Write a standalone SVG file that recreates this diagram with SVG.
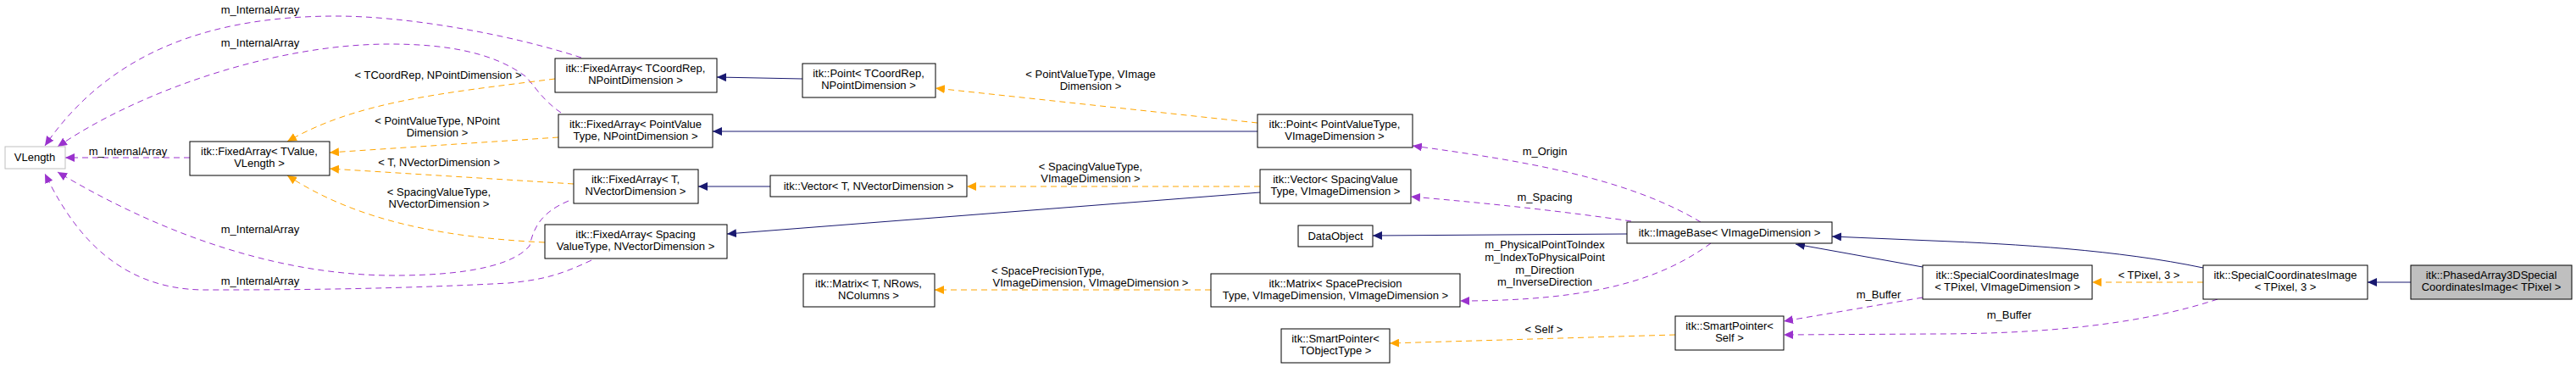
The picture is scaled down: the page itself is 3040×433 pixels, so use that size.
<svg xmlns="http://www.w3.org/2000/svg" width="3040" height="433" viewBox="0 0 3040 433">
<style>
text{font-family:"Liberation Sans",Arial,sans-serif;font-size:13px;fill:#000;text-anchor:middle}
.n rect{fill:#fff;stroke:#000;stroke-width:1}
.p{fill:none;stroke:#9a32cd;stroke-dasharray:7,5;stroke-width:1}
.o{fill:none;stroke:#ffa500;stroke-dasharray:7,5;stroke-width:1}
.b{fill:none;stroke:#191970;stroke-width:1}
</style>
<defs>
<marker id="mp" markerUnits="userSpaceOnUse" markerWidth="12" markerHeight="10" refX="11" refY="5" orient="auto"><path d="M0,0L11,5L0,10z" fill="#9a32cd"/></marker>
<marker id="mo" markerUnits="userSpaceOnUse" markerWidth="12" markerHeight="10" refX="11" refY="5" orient="auto"><path d="M0,0L11,5L0,10z" fill="#ffa500"/></marker>
<marker id="mb" markerUnits="userSpaceOnUse" markerWidth="12" markerHeight="10" refX="11" refY="5" orient="auto"><path d="M0,0L11,5L0,10z" fill="#191970"/></marker>
</defs>
<rect width="3040" height="433" fill="#fff"/>
<g id="edges">
<path class="p" marker-end="url(#mp)" d="M686,68C600,40 480,19 397,19C250,19 130,60 53,172"/>
<path class="p" marker-end="url(#mp)" d="M662,133C640,118 630,100 620,90C580,60 520,52 460,52C320,52 160,110 68,173"/>
<path class="p" marker-end="url(#mp)" d="M224,186L77,186"/>
<path class="p" marker-end="url(#mp)" d="M671,237C640,250 630,267 625,290C600,320 520,325 465,325C320,325 180,270 68,203"/>
<path class="p" marker-end="url(#mp)" d="M698,307C660,325 640,330 600,334C450,342 320,342 242,342C130,342 80,260 53,205"/>
<text x="307" y="16">m_InternalArray</text>
<text x="307" y="55">m_InternalArray</text>
<text x="151" y="183">m_InternalArray</text>
<text x="307" y="275">m_InternalArray</text>
<text x="307" y="336">m_InternalArray</text>

<path class="o" marker-end="url(#mo)" d="M655,93C520,110 420,120 339,167"/>
<path class="o" marker-end="url(#mo)" d="M659,162L389,180"/>
<path class="o" marker-end="url(#mo)" d="M677,217L389,199"/>
<path class="o" marker-end="url(#mo)" d="M643,286C520,280 420,260 339,207"/>
<text x="517" y="93">&lt; TCoordRep, NPointDimension &gt;</text>
<text x="516" y="147">&lt; PointValueType, NPoint</text>
<text x="516" y="161">Dimension &gt;</text>
<text x="518" y="196">&lt; T, NVectorDimension &gt;</text>
<text x="518" y="231">&lt; SpacingValueType,</text>
<text x="518" y="245">NVectorDimension &gt;</text>

<path class="b" marker-end="url(#mb)" d="M947,93L846,91"/>
<path class="b" marker-end="url(#mb)" d="M1484,155L841,155"/>
<path class="b" marker-end="url(#mb)" d="M909,220L824,220"/>
<path class="b" marker-end="url(#mb)" d="M1487,227L858,276"/>

<path class="o" marker-end="url(#mo)" d="M1484,145L1104,104"/>
<path class="o" marker-end="url(#mo)" d="M1487,220L1141,220"/>
<path class="o" marker-end="url(#mo)" d="M1429,342L1103,342"/>
<path class="o" marker-end="url(#mo)" d="M1977,395L1640,405"/>
<path class="o" marker-end="url(#mo)" d="M2600,333L2469,333"/>
<text x="1287" y="92">&lt; PointValueType, VImage</text>
<text x="1287" y="106">Dimension &gt;</text>
<text x="1287" y="201">&lt; SpacingValueType,</text>
<text x="1287" y="215">VImageDimension &gt;</text>
<text x="1287" y="324" text-anchor="start" x1="0" style="text-anchor:start" dx="-117">&lt; SpacePrecisionType,</text>
<text x="1287" y="338">VImageDimension, VImageDimension &gt;</text>
<text x="1822" y="393">&lt; Self &gt;</text>
<text x="2536" y="329">&lt; TPixel, 3 &gt;</text>

<path class="p" marker-end="url(#mp)" d="M2007,262C1920,210 1800,190 1667,172"/>
<path class="p" marker-end="url(#mp)" d="M1925,261C1850,250 1760,240 1665,232"/>
<path class="p" marker-end="url(#mp)" d="M2019,287C1960,330 1880,355 1723,355"/>
<path class="p" marker-end="url(#mp)" d="M2269,351L2105,379"/>
<path class="p" marker-end="url(#mp)" d="M2617,353C2520,385 2400,394 2280,394L2105,395"/>
<text x="1823" y="183">m_Origin</text>
<text x="1823" y="237">m_Spacing</text>
<text x="1823" y="293">m_PhysicalPointToIndex</text>
<text x="1823" y="308">m_IndexToPhysicalPoint</text>
<text x="1823" y="323">m_Direction</text>
<text x="1823" y="337">m_InverseDirection</text>
<text x="2217" y="352">m_Buffer</text>
<text x="2371" y="376">m_Buffer</text>

<path class="b" marker-end="url(#mb)" d="M1920,276L1620,278"/>
<path class="b" marker-end="url(#mb)" d="M2269,315L2119,288"/>
<path class="b" marker-end="url(#mb)" d="M2600,316C2500,295 2380,288 2280,284L2162,279"/>
<path class="b" marker-end="url(#mb)" d="M2845,333L2794,333"/>
</g>
<g id="VLength"><rect x="6" y="173" width="71" height="26" fill="#fff" stroke="#bfbfbf"/><text x="41" y="190">VLength</text></g>
<g id="FA_TValue" class="n"><rect x="224" y="167" width="165" height="40"/><text x="306" y="183">itk::FixedArray&lt; TValue,</text><text x="306" y="197">VLength &gt;</text></g>
<g id="FA_TCoordRep" class="n"><rect x="655" y="69" width="191" height="40"/><text x="750" y="85">itk::FixedArray&lt; TCoordRep,</text><text x="750" y="99">NPointDimension &gt;</text></g>
<g id="FA_PointValue" class="n"><rect x="659" y="135" width="182" height="39"/><text x="750" y="151">itk::FixedArray&lt; PointValue</text><text x="750" y="165">Type, NPointDimension &gt;</text></g>
<g id="FA_T" class="n"><rect x="677" y="200" width="147" height="40"/><text x="750" y="216">itk::FixedArray&lt; T,</text><text x="750" y="230">NVectorDimension &gt;</text></g>
<g id="FA_Spacing" class="n"><rect x="643" y="265" width="215" height="40"/><text x="750" y="281">itk::FixedArray&lt; Spacing</text><text x="750" y="295">ValueType, NVectorDimension &gt;</text></g>
<g id="Point_TCoordRep" class="n"><rect x="947" y="75" width="157" height="40"/><text x="1025" y="91">itk::Point&lt; TCoordRep,</text><text x="1025" y="105">NPointDimension &gt;</text></g>
<g id="Vector_T" class="n"><rect x="909" y="207" width="232" height="25"/><text x="1025" y="224">itk::Vector&lt; T, NVectorDimension &gt;</text></g>
<g id="Matrix_T" class="n"><rect x="948" y="323" width="155" height="39"/><text x="1025" y="339">itk::Matrix&lt; T, NRows,</text><text x="1025" y="353">NColumns &gt;</text></g>
<g id="Point_PVT" class="n"><rect x="1484" y="135" width="183" height="39"/><text x="1575" y="151">itk::Point&lt; PointValueType,</text><text x="1575" y="165">VImageDimension &gt;</text></g>
<g id="Vector_Spacing" class="n"><rect x="1487" y="200" width="178" height="40"/><text x="1576" y="216">itk::Vector&lt; SpacingValue</text><text x="1576" y="230">Type, VImageDimension &gt;</text></g>
<g id="Matrix_SP" class="n"><rect x="1429" y="323" width="294" height="39"/><text x="1576" y="339">itk::Matrix&lt; SpacePrecision</text><text x="1576" y="353">Type, VImageDimension, VImageDimension &gt;</text></g>
<g id="SP_TObjectType" class="n"><rect x="1512" y="388" width="128" height="40"/><text x="1576" y="404">itk::SmartPointer&lt;</text><text x="1576" y="418">TObjectType &gt;</text></g>
<g id="DataObject" class="n"><rect x="1532" y="266" width="88" height="25"/><text x="1576" y="283">DataObject</text></g>
<g id="ImageBase" class="n"><rect x="1920" y="262" width="242" height="25"/><text x="2041" y="279">itk::ImageBase&lt; VImageDimension &gt;</text></g>
<g id="SP_Self" class="n"><rect x="1977" y="373" width="128" height="40"/><text x="2041" y="389">itk::SmartPointer&lt;</text><text x="2041" y="403">Self &gt;</text></g>
<g id="SCI_V" class="n"><rect x="2269" y="313" width="200" height="40"/><text x="2369" y="329">itk::SpecialCoordinatesImage</text><text x="2369" y="343">&lt; TPixel, VImageDimension &gt;</text></g>
<g id="SCI_3" class="n"><rect x="2600" y="313" width="194" height="40"/><text x="2697" y="329">itk::SpecialCoordinatesImage</text><text x="2697" y="343">&lt; TPixel, 3 &gt;</text></g>
<g id="Phased"><rect x="2845" y="313" width="190" height="40" fill="#bfbfbf" stroke="#000"/><text x="2940" y="329">itk::PhasedArray3DSpecial</text><text x="2940" y="343">CoordinatesImage&lt; TPixel &gt;</text></g>
</svg>
